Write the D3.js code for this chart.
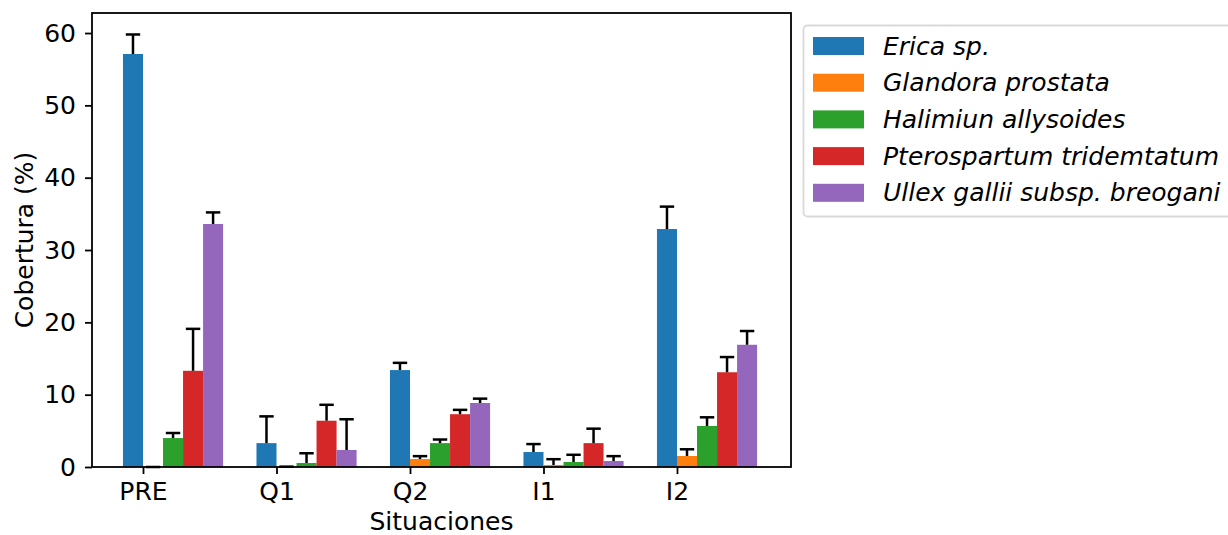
<!DOCTYPE html>
<html>
<head>
<meta charset="utf-8">
<script src="https://cdn.jsdelivr.net/npm/d3@7"></script>
<style>
  body { margin: 0; background: #fff; }
  text { font-family: "DejaVu Sans", sans-serif; fill: #000; }
</style>
</head>
<body>
<div id="vis"></div>
<script>
// data
var situaciones = ["PRE", "Q1", "Q2", "I1", "I2"];
var especies = ["Erica sp.", "Glandora prostata", "Halimiun allysoides",
                "Pterospartum tridemtatum", "Ullex gallii subsp. breogani"];
var colores = ["#1f77b4", "#ff7f0e", "#2ca02c", "#d62728", "#9467bd"];

// mean cover per species, one value per situation
var erica     = [57.1, 3.3, 13.4, 2.07, 32.9];
var glandora  = [0.0,  0.05, 1.1, 0.28, 1.52];
var halimium  = [4.0,  0.55, 3.3, 0.69, 5.67];
var pterosp   = [13.3, 6.4, 7.3, 3.3, 13.1];
var ullex     = [33.6, 2.35, 8.85, 0.83, 16.9];
// upper error
var ericaErr    = [2.7, 3.7, 1.0, 1.1, 3.1];
var glandoraErr = [0.0, 0.0, 0.4, 0.8, 0.93];
var halimiumErr = [0.7, 1.35, 0.5, 1.0, 1.2];
var pterospErr  = [5.8, 2.2, 0.6, 2.0, 2.1];
var ullexErr    = [1.6, 4.25, 0.6, 0.67, 1.9];

var yTicks = [0, 10, 20, 30, 40, 50, 60];

var series = [erica, glandora, halimium, pterosp, ullex];
var errors = [ericaErr, glandoraErr, halimiumErr, pterospErr, ullexErr];

var W = 1228, H = 535;
var mLeft = 92, mRight = 791, mTop = 13, mBottom = 467;
var barW = 0.15;
var fs = "25px";

var svg = d3.select("#vis").append("svg")
  .attr("width", W).attr("height", H);

var x = d3.scaleLinear().domain([-0.382, 4.854]).range([mLeft, mRight]);
var y = d3.scaleLinear().domain([0, 62.77]).range([mBottom, mTop]);

////////// bars //////////
var g = svg.append("g");
series.forEach(function (vals, i) {
  g.append("g").selectAll("rect")
    .data(vals)
    .enter().append("rect")
    .attr("x", function (d, j) { return x(j + (i - 1) * barW); })
    .attr("width", x(barW) - x(0))
    .attr("y", function (d) { return y(d); })
    .attr("height", function (d) { return y(0) - y(d); })
    .attr("fill", colores[i]);
});

////////// error bars //////////
series.forEach(function (vals, i) {
  vals.forEach(function (v, j) {
    var cx = x(j + (i - 0.5) * barW);
    var e = errors[i][j];
    g.append("line")
      .attr("x1", cx).attr("x2", cx)
      .attr("y1", y(v)).attr("y2", y(v + e))
      .attr("stroke", "#000").attr("stroke-width", 2.5);
    g.append("line")
      .attr("x1", cx - 7.2).attr("x2", cx + 7.2)
      .attr("y1", y(v + e)).attr("y2", y(v + e))
      .attr("stroke", "#000").attr("stroke-width", 2.5);
  });
});

////////// axes //////////
var xAxis = d3.axisBottom(x)
  .tickValues(d3.range(situaciones.length))
  .tickFormat(function (d) { return situaciones[d]; })
  .tickSize(7).tickPadding(8);
var yAxis = d3.axisLeft(y).tickValues(yTicks).tickSize(7).tickPadding(9);

var gx = svg.append("g").attr("transform", "translate(0," + mBottom + ")").call(xAxis);
var gy = svg.append("g").attr("transform", "translate(" + mLeft + ",0)").call(yAxis);
[gx, gy].forEach(function (a) {
  a.select(".domain").remove();
  a.selectAll(".tick line").attr("stroke", "#000").attr("stroke-width", 1.8);
  a.selectAll(".tick text").style("font-size", fs).attr("fill", "#000");
});

// frame
svg.append("rect")
  .attr("x", mLeft).attr("y", mTop)
  .attr("width", mRight - mLeft).attr("height", mBottom - mTop)
  .attr("fill", "none").attr("stroke", "#000").attr("stroke-width", 1.8);

svg.append("text")
  .attr("x", (mLeft + mRight) / 2).attr("y", 530)
  .attr("text-anchor", "middle").style("font-size", fs)
  .text("Situaciones");

svg.append("text")
  .attr("transform", "translate(33," + (mTop + mBottom) / 2 + ") rotate(-90)")
  .attr("text-anchor", "middle").style("font-size", fs)
  .text("Cobertura (%)");

////////// legend //////////
var lg = svg.append("g");
lg.append("rect")
  .attr("x", 803.5).attr("y", 25.5)
  .attr("width", 440).attr("height", 191).attr("rx", 4)
  .attr("fill", "#fff").attr("stroke", "#d9d9d9").attr("stroke-width", 1.8);

especies.forEach(function (name, i) {
  var cy = 46 + i * 36.7;
  lg.append("rect")
    .attr("x", 813).attr("y", cy - 9)
    .attr("width", 51).attr("height", 18)
    .attr("fill", colores[i]);
  lg.append("text")
    .attr("x", 883).attr("y", cy + 8.5)
    .style("font-size", fs).style("font-style", "italic")
    .text(name);
});
</script>
</body>
</html>
